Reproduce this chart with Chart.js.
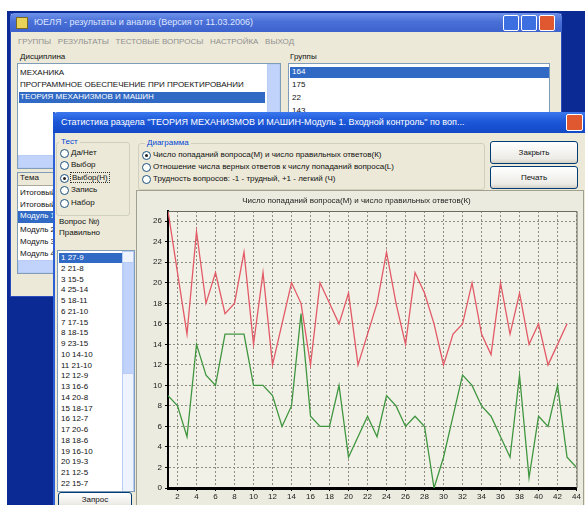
<!DOCTYPE html>
<html>
<head>
<meta charset="utf-8">
<script src="https://cdn.jsdelivr.net/npm/chart.js@4"></script>
<style>
  body { margin:0; width:585px; height:505px; overflow:hidden; background:#fff; position:relative;
         font-family:"Liberation Sans", Arial, sans-serif; font-size:8px; color:#111; }
  .a { position:absolute; }
  .desk { left:7px; top:11px; right:0; bottom:0; background:#0b2a94; }
  .win { background:#ece9d8; }
  .tbar { height:19px; color:#fff; font-size:9px; line-height:19px; white-space:nowrap; overflow:hidden; }
  .tbtn { width:14px; height:14px; border:1px solid #fff; border-radius:2px; background:#3c6fe0; }
  .list { background:#fff; border:1px solid #7f9db9; overflow:hidden; white-space:nowrap; }
  .sel { background:#316ac5; color:#fff; }
  .grp { border:1px solid #d0d0bf; border-radius:3px; }
  .lgd { background:#ece9d8; padding:0 2px; color:#0046d5; }
  .rb { width:7px; height:7px; border:1px solid #1c5180; border-radius:50%; background:#fff; }
  .rb.on::after { content:""; position:absolute; left:2px; top:2px; width:3px; height:3px; border-radius:50%; background:#222; }
  .btn { border:1px solid #003c74; border-radius:3px; background:linear-gradient(#fff,#ecebe6 80%,#d6d0c5); text-align:center; }
  .sb { background:#c1d3fb; border:1px solid #b8cdf5; }
</style>
</head>
<body>
<div class="a desk"></div>

<!-- main window -->
<div class="a win" style="left:10px;top:13px;width:550px;height:282px;border:1px solid #2a4cbf;"></div>
<div class="a tbar" style="left:10px;top:13px;width:552px;background:linear-gradient(#6f92e8,#4a70d8 45%,#3d62cc);border-radius:5px 5px 0 0;">
  <span class="a" style="left:6px;top:4px;width:10px;height:10px;background:#e8d25a;border:1px solid #7a6a20;"></span>
  <span class="a" style="left:24px;color:#dfe6ff;">ЮЕЛЯ - результаты и анализ (Версия от 11.03.2006)</span>
</div>
<div class="a tbtn" style="left:503px;top:15px;"></div>
<div class="a tbtn" style="left:521px;top:15px;"></div>
<div class="a tbtn" style="left:539px;top:15px;background:#e0582f;"></div>
<div class="a" style="left:18px;top:37px;color:#909090;white-space:nowrap;">ГРУППЫ &nbsp; РЕЗУЛЬТАТЫ &nbsp; ТЕСТОВЫЕ ВОПРОСЫ &nbsp; НАСТРОЙКА &nbsp; ВЫХОД</div>
<div class="a" style="left:20px;top:52px;">Дисциплина</div>
<div class="a" style="left:290px;top:52px;">Группы</div>
<div class="a list" style="left:17px;top:63px;width:262px;height:104px;">
  <div style="position:absolute;left:2px;top:4px;">МЕХАНИКА</div>
  <div style="position:absolute;left:2px;top:16px;">ПРОГРАММНОЕ ОБЕСПЕЧЕНИЕ ПРИ ПРОЕКТИРОВАНИИ</div>
  <div class="sel" style="position:absolute;left:1px;top:28px;width:245px;padding-left:1px;height:11px;">ТЕОРИЯ МЕХАНИЗМОВ И МАШИН</div>
  <div class="sb" style="position:absolute;right:0;top:0;width:11px;height:104px;"></div>
  <div class="sb" style="position:absolute;left:0;bottom:0;width:250px;height:11px;"></div>
</div>
<div class="a list" style="left:288px;top:63px;width:260px;height:80px;">
  <div class="sel" style="position:absolute;left:1px;top:3px;width:257px;height:11px;padding-left:2px;">164</div>
  <div style="position:absolute;left:3px;top:16px;">175</div>
  <div style="position:absolute;left:3px;top:29px;">22</div>
  <div style="position:absolute;left:3px;top:42px;">143</div>
</div>
<div class="a list" style="left:17px;top:172px;width:60px;height:100px;">
  <div style="position:absolute;left:0;top:0;width:60px;height:12px;background:#ece9d8;border-bottom:1px solid #aca899;padding-left:2px;">Тема</div>
  <div style="position:absolute;left:2px;top:15px;">Итоговый</div>
  <div style="position:absolute;left:2px;top:27px;">Итоговый</div>
  <div class="sel" style="position:absolute;left:0;top:38px;width:60px;height:12px;padding-left:2px;">Модуль 1</div>
  <div style="position:absolute;left:2px;top:52px;">Модуль 2</div>
  <div style="position:absolute;left:2px;top:64px;">Модуль 3</div>
  <div style="position:absolute;left:2px;top:76px;">Модуль 4</div>
  <div class="sb" style="position:absolute;left:0;bottom:0;width:60px;height:11px;"></div>
</div>

<!-- statistics dialog -->
<div class="a win" style="left:53px;top:112px;width:540px;height:400px;border-left:2px solid #2d5fd6;"></div>
<div class="a tbar" style="left:53px;top:112px;width:540px;height:21px;line-height:21px;background:linear-gradient(#3b78ee,#1d58d8 45%,#1248c6);border-radius:5px 0 0 0;">
  <span class="a" style="left:8px;">Статистика раздела "ТЕОРИЯ МЕХАНИЗМОВ И МАШИН-Модуль 1. Входной контроль" по воп...</span>
</div>
<div class="a tbtn" style="left:566px;top:114px;width:15px;height:15px;background:#e0582f;"></div>

<div class="a grp" style="left:56px;top:142px;width:72px;height:72px;"></div>
<div class="a lgd" style="left:59px;top:137px;">Тест</div>
<div class="a rb" style="left:60px;top:149px;"></div><div class="a" style="left:71px;top:148px;">Да/Нет</div>
<div class="a rb" style="left:60px;top:161px;"></div><div class="a" style="left:71px;top:160px;">Выбор</div>
<div class="a rb on" style="left:60px;top:174px;"></div><div class="a" style="left:70px;top:172px;border:1px dotted #333;padding:0 1px;">Выбор(Н)</div>
<div class="a rb" style="left:60px;top:186px;"></div><div class="a" style="left:71px;top:185px;">Запись</div>
<div class="a rb" style="left:60px;top:199px;"></div><div class="a" style="left:71px;top:198px;">Набор</div>

<div class="a" style="left:59px;top:217px;">Вопрос №)</div>
<div class="a" style="left:59px;top:228px;">Правильно</div>
<div class="a list" id="qlist" style="left:57px;top:250px;width:76px;height:240px;">
  <div class="sb" style="position:absolute;right:0;top:0;width:10px;height:240px;background:#eef3fd;"></div>
  <div class="sb" style="position:absolute;right:0;top:11px;width:9px;height:110px;"></div>
</div>
<div class="a btn" style="left:58px;top:492px;width:72px;height:14px;line-height:13px;">Запрос</div>

<div class="a grp" style="left:138px;top:143px;width:345px;height:45px;"></div>
<div class="a lgd" style="left:145px;top:138px;">Диаграмма</div>
<div class="a rb on" style="left:142px;top:151px;"></div><div class="a" style="left:153px;top:150px;">Число попаданий вопроса(М) и число правильных ответов(К)</div>
<div class="a rb" style="left:142px;top:163px;"></div><div class="a" style="left:153px;top:162px;">Отношение числа верных ответов к числу попаданий вопроса(L)</div>
<div class="a rb" style="left:142px;top:175px;"></div><div class="a" style="left:153px;top:174px;">Трудность вопросов: -1 - трудный, +1 - легкий (Ч)</div>

<div class="a btn" style="left:490px;top:141px;width:86px;height:21px;line-height:21px;">Закрыть</div>
<div class="a btn" style="left:490px;top:166px;width:86px;height:21px;line-height:21px;">Печать</div>

<div class="a" style="left:136px;top:190px;width:446px;height:316px;border:1px solid #a0a090;background:#ecebdf;"></div>
<canvas id="chart" class="a" width="446" height="315" style="left:136px;top:190px;"></canvas>

<script>
// question numbers along the x axis
var questionNums = [1, 2, 3, 4, 5, 6, 7, 8, 9, 10, 11, 12, 13, 14, 15, 16, 17, 18, 19, 20, 21, 22,
  23, 24, 25, 26, 27, 28, 29, 30, 31, 32, 33, 34, 35, 36, 37, 38, 39, 40, 41, 42, 43, 44];
// M - how many times the question was shown (red)
var shownCounts = [27, 21, 15, 25, 18, 21, 17, 18, 23, 14, 21, 12, 16, 20, 18, 12, 20, 18, 16, 19, 12, 15,
  18, 23, 18, 14, 21, 19, 16, 12, 15, 16, 20, 15, 13, 20, 15, 19, 14, 16, 12, 14, 16];
// K - how many correct answers (green)
var correctCounts = [9, 8, 5, 14, 11, 10, 15, 15, 15, 10, 10, 9, 6, 8, 17, 7, 6, 6, 10, 3, 5, 7,
  5, 9, 8, 6, 7, 6, 0, 3, 7, 11, 10, 8, 7, 5, 3, 11, 1, 7, 6, 10, 3, 2];
var xTickLabels = [2, 4, 6, 8, 10, 12, 14, 16, 18, 20, 22, 24, 26, 28, 30, 32, 34, 36, 38, 40, 42, 44];
var yTickLabels = [0, 2, 4, 6, 8, 10, 12, 14, 16, 18, 20, 22, 24, 26];
var chartTitle = 'Число попаданий вопроса(М) и число правильных ответов(К)';

// fill the question list from the same data
var qlist = document.getElementById('qlist');
shownCounts.forEach(function (m, i) {
  var d = document.createElement('div');
  d.style.cssText = 'position:absolute;left:1px;top:' + (2 + i * 10.75) + 'px;width:64px;height:10px;line-height:10px;padding-left:2px;';
  if (i === 0) d.className = 'sel';
  d.textContent = questionNums[i] + ' ' + m + '-' + correctCounts[i];
  qlist.insertBefore(d, qlist.firstChild);
});

Chart.defaults.font.family = '"Liberation Sans", Arial, sans-serif';

var plotFrame = {
  id: 'plotFrame',
  beforeDatasetsDraw: function () {},
  beforeDraw: function (chart) {
    var a = chart.chartArea, c = chart.ctx;
    c.save();
    c.fillStyle = '#f2f1e8';
    c.fillRect(a.left, a.top, a.right - a.left, a.bottom - a.top);
    c.restore();
  },
  afterDraw: function (chart) {
    var a = chart.chartArea, c = chart.ctx;
    c.save();
    c.strokeStyle = '#6c6c60';
    c.lineWidth = 1;
    c.beginPath();
    c.moveTo(a.left, a.top + 0.5);
    c.lineTo(a.right + 0.5, a.top + 0.5);
    c.lineTo(a.right + 0.5, a.bottom);
    c.stroke();
    c.restore();
  }
};

function pts(arr) {
  return arr.map(function (v, i) { return { x: questionNums[i], y: v }; });
}

new Chart(document.getElementById('chart'), {
  type: 'line',
  data: {
    datasets: [{
      label: 'М',
      data: pts(shownCounts),
      borderColor: '#e25a66',
      borderWidth: 1.3,
      pointRadius: 0,
      tension: 0
    }, {
      label: 'К',
      data: pts(correctCounts),
      borderColor: '#3f963f',
      borderWidth: 1.3,
      pointRadius: 0,
      tension: 0
    }]
  },
  options: {
    responsive: false,
    animation: false,
    layout: { padding: { left: 0, right: 5, top: 0, bottom: 0 } },
    plugins: {
      legend: { display: false },
      tooltip: { enabled: false },
      title: {
        display: true,
        text: chartTitle,
        color: '#222',
        font: { size: 8, weight: 'normal', lineHeight: 1 },
        padding: { top: 7, bottom: 6 }
      }
    },
    scales: {
      x: {
        type: 'linear',
        min: 1,
        max: 44,
        afterBuildTicks: function (s) { s.ticks = xTickLabels.map(function (v) { return { value: v }; }); },
        afterFit: function (s) { s.height = 17; },
        ticks: { color: '#222', font: { size: 8 }, padding: 1, maxRotation: 0, autoSkip: false },
        grid: { color: '#8e8e80', tickColor: '#000', tickLength: 3 },
        border: { color: '#000', width: 3, dash: [2, 2] }
      },
      y: {
        min: 0,
        max: 27,
        afterBuildTicks: function (s) { s.ticks = yTickLabels.map(function (v) { return { value: v }; }); },
        afterFit: function (s) { s.width = 32; },
        ticks: { color: '#222', font: { size: 8 }, padding: 3 },
        grid: { color: '#8e8e80', tickColor: '#000', tickLength: 3 },
        border: { color: '#000', width: 2, dash: [2, 2] }
      }
    }
  },
  plugins: [plotFrame]
});
</script>
</body>
</html>
